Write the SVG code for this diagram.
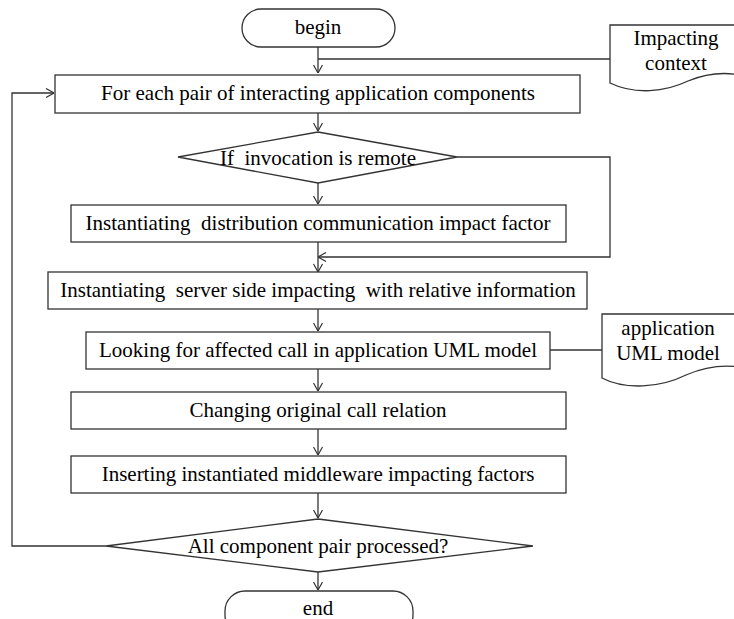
<svg xmlns="http://www.w3.org/2000/svg" width="734" height="619" viewBox="0 0 734 619">
<defs>
<marker id="arr" viewBox="0 0 10 10" refX="10" refY="5" markerWidth="10" markerHeight="10" markerUnits="userSpaceOnUse" orient="auto">
<polyline points="2,0.5 10,5 2,9.5" fill="none" stroke="#333" stroke-width="1.2"/>
</marker>
<style>
.s{fill:#fff;stroke:#333;stroke-width:1.3}
.c{fill:none;stroke:#333;stroke-width:1.3}
</style>
</defs>
<rect width="734" height="619" fill="#fff"/>
<g id="connectors">
<path class="c" d="M318,47 V73" marker-end="url(#arr)"/>
<path class="c" d="M318,59 H610"/>
<path class="c" d="M318,113 V131" marker-end="url(#arr)"/>
<path class="c" d="M318,183 V204" marker-end="url(#arr)"/>
<path class="c" d="M457,157 H610 V257 H318" marker-end="url(#arr)"/>
<path class="c" d="M318,242 V272" marker-end="url(#arr)"/>
<path class="c" d="M318,309 V331" marker-end="url(#arr)"/>
<path class="c" d="M550,350 H602"/>
<path class="c" d="M318,369 V391" marker-end="url(#arr)"/>
<path class="c" d="M318,429 V455" marker-end="url(#arr)"/>
<path class="c" d="M318,493 V518" marker-end="url(#arr)"/>
<path class="c" d="M318,572 V590" marker-end="url(#arr)"/>
<path class="c" d="M106,546 H12 V93 H54" marker-end="url(#arr)"/>
</g>
<g font-family="Liberation Serif, Times New Roman, Noto Serif, DejaVu Serif, serif" font-size="21" fill="#000" text-anchor="middle">
<g id="begin">
<rect class="s" x="242" y="9" width="153" height="38" rx="19"/>
<text x="318" y="34">begin</text>
</g>
<g id="impacting-context">
<path class="s" d="M610,83 V25 H745 V76 C720,70 700,76 688,81 C665,92 635,95 610,83 Z"/>
<text x="676" y="45">Impacting</text>
<text x="676" y="70">context</text>
</g>
<g id="foreach">
<rect class="s" x="55" y="75" width="525" height="38"/>
<text x="318" y="100">For each pair of interacting application components</text>
</g>
<g id="remote">
<polygon class="s" points="318,132 457,157 318,183 178,157"/>
<text x="318" y="165" xml:space="preserve">If  invocation is remote</text>
</g>
<g id="distribution">
<rect class="s" x="71" y="205" width="495" height="37"/>
<text x="318" y="230" xml:space="preserve">Instantiating  distribution communication impact factor</text>
</g>
<g id="server-side">
<rect class="s" x="48" y="272" width="539" height="37"/>
<text x="318" y="297" xml:space="preserve">Instantiating  server side impacting  with relative information</text>
</g>
<g id="looking">
<rect class="s" x="86" y="332" width="464" height="37"/>
<text x="318" y="357">Looking for affected call in application UML model</text>
</g>
<g id="uml-model">
<path class="s" d="M602,378 V314 H745 V368 C720,363 700,369 686,375 C660,388 625,390 602,378 Z"/>
<text x="668" y="335">application</text>
<text x="668" y="360">UML model</text>
</g>
<g id="changing">
<rect class="s" x="71" y="392" width="495" height="37"/>
<text x="318" y="417">Changing original call relation</text>
</g>
<g id="inserting">
<rect class="s" x="71" y="456" width="495" height="37"/>
<text x="318" y="481">Inserting instantiated middleware impacting factors</text>
</g>
<g id="all-processed">
<polygon class="s" points="318,519 533,546 318,572 106,546"/>
<text x="318" y="553">All component pair processed?</text>
</g>
<g id="end">
<rect class="s" x="225" y="591" width="188" height="44" rx="20"/>
<text x="318" y="615">end</text>
</g>
</g>
</svg>
